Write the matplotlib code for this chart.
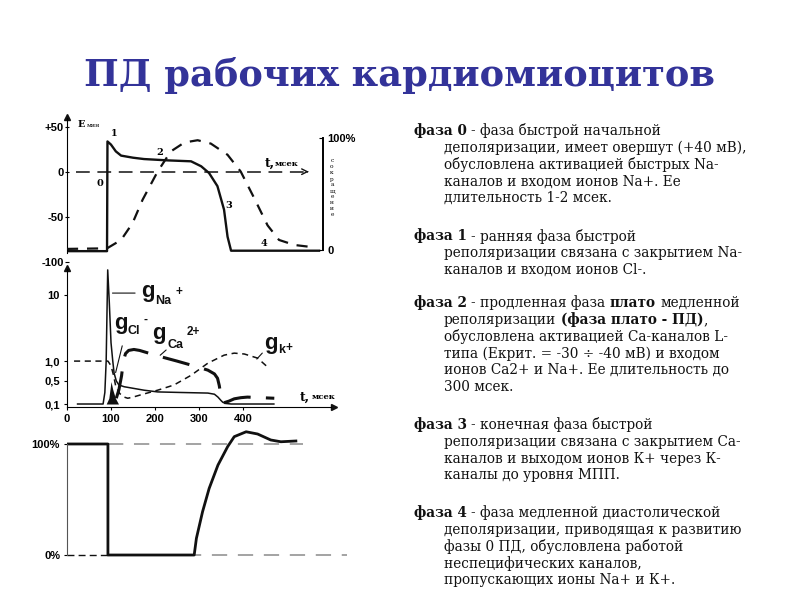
import numpy as np
import matplotlib.pyplot as plt

W, H = 800, 600


def fx(px):
    return px / W


def fy(py):
    return 1 - py / H


# --- top panel: action potential (mV) and contraction (%) ---
ap_t = [0, 91, 92, 100, 111, 123, 150, 175, 230, 282, 305, 323, 342, 357, 365, 373, 573]
ap_mv = [-88, -88, 33.5, 30, 22.5, 17.8, 15.5, 14, 12.5, 11.5, 6, -1.5, -16, -42, -72, -87.5, -87.5]

contr_t = [0, 91, 123, 149, 172, 206, 236, 267, 297, 327, 365, 395, 426, 456, 482, 517, 562]
contr_pct = [1, 1.5, 9, 24, 45, 70, 88, 96, 98, 95, 85, 70, 46, 22, 9, 4.5, 2.4]

mv_ticks = [50, 0, -50, -100]
mv_labels = ['+50', '0', '-50', '-100']

phase_t = [75, 107, 211, 368, 448]
phase_mv = [-13, 42, 21, -37, -80]
phase_lbl = ['0', '1', '2', '3', '4']

# --- middle panel: conductances ---
gna_t = [24, 82, 86, 89, 92.5, 96, 100, 104, 107, 112, 118, 130, 145, 175, 206, 260, 320, 335, 343, 350, 354, 360, 373, 470]
gna_v = [0.1, 0.1, 0.3, 1.0, 24, 8, 1.9, 1.0, 0.66, 0.5, 0.43, 0.4, 0.38, 0.34, 0.31, 0.3, 0.29, 0.27, 0.22, 0.16, 0.13, 0.11, 0.1, 0.1]

gcl_t = [89, 95, 100, 104, 110, 117]
gcl_v = [0.1, 0.2, 0.49, 0.35, 0.2, 0.1]

gca_t = [112, 118, 124, 128, 133, 140, 152, 165, 206, 250, 282, 320, 335, 342, 346, 350, 356, 368, 380, 395, 410, 440, 471]
gca_v = [0.2, 0.35, 0.6, 1.0, 1.3, 1.45, 1.5, 1.45, 1.2, 1.0, 0.87, 0.73, 0.64, 0.55, 0.42, 0.22, 0.12, 0.15, 0.19, 0.21, 0.22, 0.21, 0.2]

gk_t = [16, 93, 100, 106, 111, 120, 130, 138, 150, 168, 206, 243, 282, 320, 357, 380, 403, 433, 456]
gk_v = [1.0, 1.0, 0.85, 0.6, 0.4, 0.28, 0.22, 0.2, 0.22, 0.26, 0.34, 0.43, 0.61, 0.93, 1.23, 1.32, 1.28, 1.11, 0.81]

time_ticks = [0, 100, 200, 300, 400]
g_ticks = [0.1, 0.5, 1, 10]
g_labels = ['0,1', '0,5', '1,0', '10']

# --- bottom panel: excitability (%) ---
exc_t = [0, 93, 93, 289, 294, 308, 323, 343, 365, 380, 407, 433, 463, 486, 520]
exc_pct = [100, 100, 0, 0, 15, 39, 60, 81, 97.6, 106.6, 111, 109, 103.6, 102, 102.7]
pct_ticks = [0, 100]
pct_labels = ['0%', '100%']

K = 57.5 / 66
L05 = np.log10(0.5)


def g_fwd(v):
    v = np.asarray(v, float)
    hi = np.log10(np.clip(v, 1e-9, None))
    lo = L05 - (0.5 - v) * K
    return np.where(v >= 0.5, hi, lo)


def g_inv(y):
    y = np.asarray(y, float)
    hi = 10 ** np.clip(y, -10, 10)
    lo = 0.5 - (L05 - y) / K
    return np.where(y >= L05, hi, lo)


tick_font = dict(family='Liberation Sans', weight='bold', size=8)
ink = '#111111'

fig = plt.figure(figsize=(8, 6), dpi=100)

fig.text(0.5, fy(75), 'ПД рабочих кардиомиоцитов', ha='center', va='center',
         fontsize=26.5, family='DejaVu Serif', weight='bold', color='#333399')

# ---------- top panel ----------
ax1 = fig.add_axes([fx(67), fy(266.5), 256 / W, 153.5 / H])
ax1.set_xlim(0, 582)
ax1.set_ylim(-105, 65)
ax1.plot(ap_t, ap_mv, color=ink, lw=1.7, solid_joinstyle='round')
for s in ['top', 'right', 'bottom']:
    ax1.spines[s].set_visible(False)
ax1.spines['left'].set_bounds(-90, 60)
ax1.plot(0, 61, marker='^', color=ink, ms=4, clip_on=False)
ax1.set_xticks([])
ax1.set_yticks(mv_ticks)
ax1.set_yticklabels(mv_labels, **tick_font)
ax1.tick_params(axis='y', length=3, direction='inout', pad=1)
ax1.yaxis.get_major_ticks()[3].tick1line.set_visible(False)
ax1.plot([20, 545], [0, 0], color=ink, lw=1.1, dashes=(9, 5))
ax1.annotate('', xy=(556, 0), xytext=(540, 0),
             arrowprops=dict(arrowstyle='->', color=ink, lw=1.0))
for t, v, s in zip(phase_t, phase_mv, phase_lbl):
    ax1.text(t, v, s, ha='center', va='center', fontsize=7,
             family='DejaVu Serif', weight='bold')
ax1.text(450, 9, 't,', fontsize=9, family='DejaVu Serif', weight='bold', va='center')
ax1.text(472, 9, 'мсек', fontsize=6, family='DejaVu Serif', weight='bold', va='center')
ax1.text(25, 52, 'E', fontsize=7, family='DejaVu Serif', weight='bold', va='center')
ax1.text(44, 51, 'мин', fontsize=4.5, family='DejaVu Serif', va='center')

ax2 = ax1.twinx()
ax2.set_ylim(-14.7, 122.3)
ax2.plot(contr_t, contr_pct, color=ink, lw=1.6, dashes=(5, 4))
for s in ['top', 'left', 'bottom']:
    ax2.spines[s].set_visible(False)
ax2.spines['right'].set_bounds(0, 100)
ax2.spines['right'].set_linewidth(1.4)
ax2.set_yticks(pct_ticks)
ax2.set_yticklabels(['0', '100%'], **tick_font)
ax2.tick_params(axis='y', length=3, direction='in', pad=3)
fig.text(fx(332), fy(188), '\n'.join('сокращение'), ha='center', va='center',
         fontsize=4.2, linespacing=1.25, family='DejaVu Serif')

# ---------- middle panel ----------
axm = fig.add_axes([fx(67), fy(407), 294 / W, 141 / H])
axm.set_xlim(0, 668)
axm.set_yscale('function', functions=(g_fwd, g_inv))
axm.set_ylim(0.048, 27.5)
axm.plot(gna_t, gna_v, color=ink, lw=1.1)
axm.fill_between(gcl_t, 0.1, gcl_v, color=ink, lw=0)
axm.plot(gca_t, gca_v, color=ink, lw=2.2, dashes=(9, 5))
axm.plot(gk_t, gk_v, color=ink, lw=1.1, dashes=(4, 3))
for s in ['top', 'right']:
    axm.spines[s].set_visible(False)
axm.spines['left'].set_bounds(0.048, 25)
axm.spines['bottom'].set_bounds(0, 600)
axm.plot(0, 25.5, marker='^', color=ink, ms=4, clip_on=False)
axm.plot(606, 0, marker='>', color=ink, ms=4, clip_on=False,
         transform=axm.get_xaxis_transform())
axm.set_yticks(g_ticks)
axm.set_yticklabels(g_labels, **tick_font)
axm.yaxis.set_minor_locator(plt.NullLocator())
axm.set_xticks(time_ticks)
axm.set_xticklabels([str(t) for t in time_ticks], **tick_font)
axm.tick_params(length=2, pad=3)
axm.text(528, 0.22, 't,', fontsize=9, family='DejaVu Serif', weight='bold', va='center')
axm.text(556, 0.22, 'мсек', fontsize=6, family='DejaVu Serif', weight='bold', va='center')

leaders = [((97, 10.7), (161, 10.7)), ((109, 0.61), (127, 1.87)),
           ((207, 1.15), (230, 1.57)), ((427, 1.0), (448, 1.42))]
for a, b in leaders:
    axm.annotate('', xy=a, xytext=b,
                 arrowprops=dict(arrowstyle='-', color=ink, lw=0.8))

gfont = dict(family='Liberation Sans', color=ink, weight='bold')
for gx, gy, sub, sx, sy, sup, ux, uy in [
        (141, 292, 'Na', 155, 301, '+', 175, 292),
        (114, 323, 'Cl', 127, 331, '-', 144, 320),
        (152, 333, 'Ca', 167, 345, '2+', 187, 332),
        (264, 343, 'k', 278, 350, '+', 285, 348)]:
    fig.text(fx(gx), fy(gy), 'g', fontsize=16, va='center', ha='left', **gfont)
    fig.text(fx(sx), fy(sy), sub, fontsize=9, va='center', ha='left', **gfont)
    fig.text(fx(ux), fy(uy), sup, fontsize=8.5, va='center', ha='left', **gfont)

# ---------- bottom panel ----------
axb = fig.add_axes([fx(67), fy(570), 294 / W, 145 / H])
axb.set_xlim(0, 668)
axb.set_ylim(-13.5, 117.1)
axb.plot([93, 537], [100, 100], color='#8a8a8a', lw=1.1, dashes=(10, 7))
axb.plot([93, 637], [0, 0], color='#8a8a8a', lw=1.1, dashes=(10, 7))
axb.plot([0, 93], [0, 0], color=ink, lw=1.0, dashes=(5, 3))
axb.plot(exc_t, exc_pct, color=ink, lw=2.0, solid_joinstyle='round')
for s in ['top', 'right', 'bottom']:
    axb.spines[s].set_visible(False)
axb.spines['left'].set_bounds(0, 100)
axb.spines['left'].set_color('#555555')
axb.set_xticks([])
axb.set_yticks(pct_ticks)
axb.set_yticklabels(pct_labels, **tick_font)
axb.tick_params(axis='y', length=2, pad=3)

# ---------- right-hand text ----------
blocks = [
    (131, [[('фаза 0', True, False), ('- фаза быстрой начальной', False, True)],
           [('деполяризации, имеет овершут (+40 мВ),', False, False)],
           [('обусловлена активацией быстрых Na-', False, False)],
           [('каналов и входом ионов Na+. Ее', False, False)],
           [('длительность 1-2 мсек.', False, False)]]),
    (236, [[('фаза 1', True, False), ('- ранняя фаза быстрой', False, True)],
           [('реполяризации связана с закрытием Na-', False, False)],
           [('каналов и входом ионов Cl-.', False, False)]]),
    (303, [[('фаза 2', True, False), ('- продленная фаза', False, True),
            ('плато', True, True), ('медленной', False, True)],
           [('реполяризации', False, False), ('(фаза плато - ПД)', True, True), (',', False, False)],
           [('обусловлена активацией Са-каналов L-', False, False)],
           [('типа (Екрит. = -30 ÷ -40 мВ) и входом', False, False)],
           [('ионов Са2+ и Na+. Ее длительность до', False, False)],
           [('300 мсек.', False, False)]]),
    (425, [[('фаза 3', True, False), ('- конечная фаза быстрой', False, True)],
           [('реполяризации связана с закрытием Са-', False, False)],
           [('каналов и выходом ионов К+ через К-', False, False)],
           [('каналы до уровня МПП.', False, False)]]),
    (513, [[('фаза 4', True, False), ('- фаза медленной диастолической', False, True)],
           [('деполяризации, приводящая к развитию', False, False)],
           [('фазы 0 ПД, обусловлена работой', False, False)],
           [('неспецифических каналов,', False, False)],
           [('пропускающих ионы Na+ и К+.', False, False)]]),
]

renderer = fig.canvas.get_renderer()
txt_kw = dict(family='DejaVu Serif', fontsize=9.8, color=ink, va='center', ha='left')
probe1 = fig.text(0, 0, 'a a', **txt_kw)
probe2 = fig.text(0, 0, 'aa', **txt_kw)
space_w = probe1.get_window_extent(renderer).width - probe2.get_window_extent(renderer).width
probe1.remove()
probe2.remove()

for y0, lines in blocks:
    for i, line in enumerate(lines):
        y = y0 + i * 16.8
        x = 414 if i == 0 else 444
        for text, bold, space in line:
            if space:
                x += space_w
            t = fig.text(fx(x), fy(y), text, weight='bold' if bold else 'normal', **txt_kw)
            x = t.get_window_extent(renderer).x1

fig.savefig('out.png', dpi=100, facecolor='white')
